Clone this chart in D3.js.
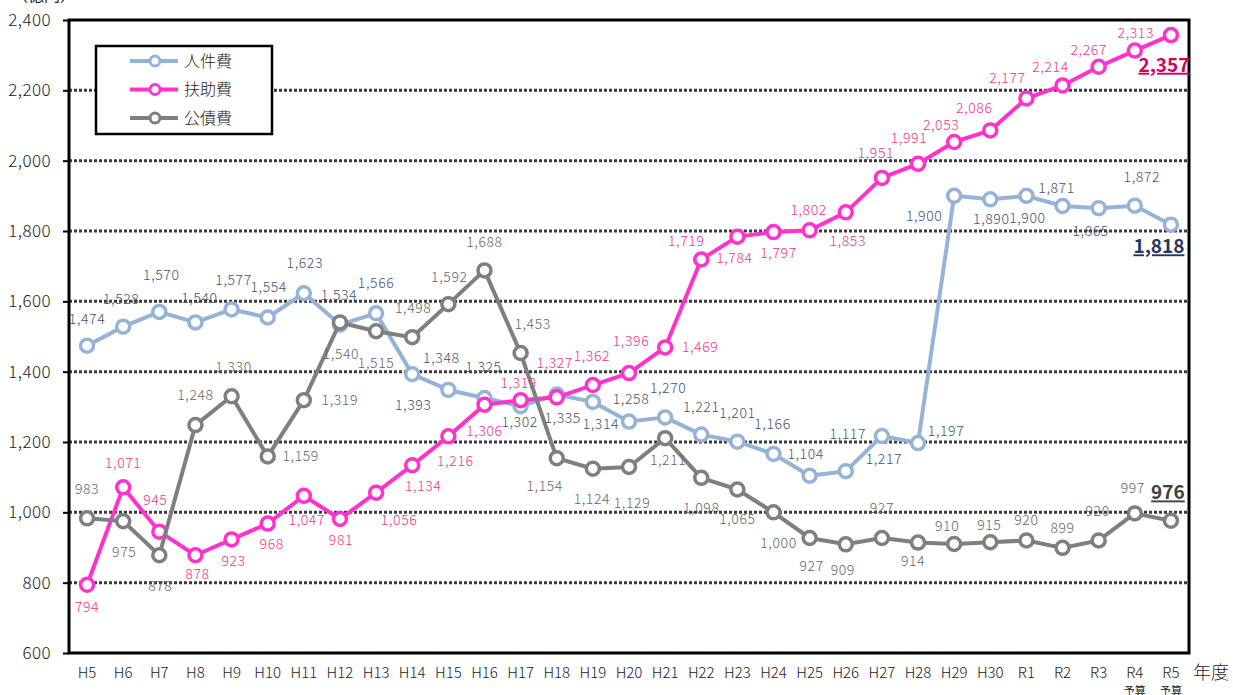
<!DOCTYPE html>
<html>
<head>
<meta charset="utf-8">
<script src="https://cdn.jsdelivr.net/npm/d3@7.9.0/dist/d3.min.js"></script>
<style>
  body { margin: 0; background: #fff; }
  svg { display: block; font-family: "Noto Sans CJK JP", "Noto Sans", sans-serif; }
</style>
</head>
<body>
<svg id="chart" width="1233" height="695"></svg>
<script>
// fiscal years
const years = ['H5','H6','H7','H8','H9','H10','H11','H12','H13','H14','H15','H16','H17','H18','H19',
  'H20','H21','H22','H23','H24','H25','H26','H27','H28','H29','H30','R1','R2','R3','R4','R5'];
const budgetYears = ['R4', 'R5'];
const yTicks = [600, 800, 1000, 1200, 1400, 1600, 1800, 2000, 2200, 2400];

// 人件費
const jinkenhi = [1474,1528,1570,1540,1577,1554,1623,1534,1566,1393,1348,1325,1302,1335,1314,
  1258,1270,1221,1201,1166,1104,1117,1217,1197,1900,1890,1900,1871,1865,1872,1818];
// 扶助費
const fujohi = [794,1071,945,878,923,968,1047,981,1056,1134,1216,1306,1319,1327,1362,
  1396,1469,1719,1784,1797,1802,1853,1951,1991,2053,2086,2177,2214,2267,2313,2357];
// 公債費
const kosaihi = [983,975,878,1248,1330,1159,1319,1540,1515,1498,1592,1688,1453,1154,1124,
  1129,1211,1098,1065,1000,927,909,927,914,910,915,920,899,920,997,976];

// label placement (dx, dy from the point)
const jinkenhiLabelPos = [[0,-27],[-2,-28],[2,-37],[4,-24],[2,-29],[1,-30],[1,-30],[-1,-29],[0,-30],[1,31],
  [-7,-32],[-1,-31],[-1,16],[6,24],[8,22],[2,-23],[3,-29],[0,-28],[0,-29],[-1,-30],[-4,-22],[2,-37],
  [2,23],[28,-12],[-30,20],[1,20],[1,22],[-6,-18],[-8,23],[7,-29],[-12,22]];
const fujohiLabelPos = [[0,22],[0,-24],[-4,-32],[2,19],[2,22],[4,21],[3,24],[1,21],[23,27],[11,21],
  [7,25],[0,26],[-2,-17],[-2,-34],[-1,-29],[2,-32],[35,0],[-15,-18],[-3,21],[5,21],[-1,-20],[2,29],
  [-6,-25],[-9,-26],[-13,-17],[-16,-22],[-19,-20],[-12,-18],[-10,-17],[1,-17],[-7,30]];
const kosaihiLabelPos = [[0,-29],[1,31],[1,31],[0,-30],[2,-29],[33,0],[36,0],[1,32],[0,32],[1,-29],
  [1,-27],[0,-28],[12,-29],[-12,28],[-1,30],[3,36],[3,22],[0,30],[0,30],[5,31],[2,28],[-3,26],
  [0,-30],[-5,19],[-7,-18],[-1,-17],[0,-20],[0,-20],[-1,-29],[-2,-25],[-3,-28]];

const series = [
  { name: '人件費', values: jinkenhi, pos: jinkenhiLabelPos, line: '#95b3d7', text: '#44546a', last: '#1f3864' },
  { name: '扶助費', values: fujohi, pos: fujohiLabelPos, line: '#ff33cc', text: '#ee3585', last: '#d6005a' },
  { name: '公債費', values: kosaihi, pos: kosaihiLabelPos, line: '#7f7f7f', text: '#666666', last: '#404040' }
];

const svg = d3.select('#chart');
const plot = { left: 69, right: 1189, top: 20, bottom: 653 };

const x = d3.scalePoint().domain(years).range([plot.left, plot.right]).padding(0.5);
const y = d3.scaleLinear().domain([600, 2400]).range([plot.bottom, plot.top]);

// dotted gridlines
svg.append('g')
  .selectAll('line')
  .data(yTicks.filter(t => t > 600 && t < 2400))
  .join('line')
  .attr('x1', plot.left).attr('x2', plot.right)
  .attr('y1', d => y(d)).attr('y2', d => y(d))
  .attr('stroke', '#3a3a3a')
  .attr('stroke-width', 3)
  .attr('stroke-dasharray', '3,2');

// y axis
const yAxis = svg.append('g')
  .attr('transform', `translate(${plot.left},0)`)
  .call(d3.axisLeft(y).tickValues(yTicks).tickSize(6).tickPadding(12).tickFormat(d3.format(',')));
yAxis.select('.domain').remove();
yAxis.selectAll('line').attr('stroke', '#000').attr('stroke-width', 2);
yAxis.selectAll('text').attr('font-size', 17).attr('fill', '#222').attr('font-weight', 300)
  .attr('letter-spacing', 0.4)
  .attr('font-family', '"Noto Sans CJK JP", sans-serif');

svg.append('text')
  .attr('x', 12).attr('y', 1)
  .attr('font-size', 16).attr('fill', '#222')
  .text('（億円）');

// frame
svg.append('rect')
  .attr('x', plot.left).attr('y', plot.top)
  .attr('width', plot.right - plot.left).attr('height', plot.bottom - plot.top)
  .attr('fill', 'none').attr('stroke', '#000').attr('stroke-width', 3);

// x labels
const xAxis = svg.append('g');
xAxis.selectAll('text.year')
  .data(years)
  .join('text')
  .attr('class', 'year')
  .attr('x', d => x(d)).attr('y', 678)
  .attr('text-anchor', 'middle')
  .attr('font-size', 15).attr('font-weight', 300).attr('fill', '#222')
  .text(d => d);
xAxis.selectAll('text.budget')
  .data(budgetYears)
  .join('text')
  .attr('class', 'budget')
  .attr('x', d => x(d)).attr('y', 695)
  .attr('text-anchor', 'middle')
  .attr('font-size', 11).attr('fill', '#222')
  .text('予算');
svg.append('text')
  .attr('x', 1193).attr('y', 679)
  .attr('font-size', 18).attr('font-weight', 300).attr('fill', '#222')
  .text('年度');

// lines + markers
const line = d3.line().x((d, i) => x(years[i])).y(d => y(d));

series.forEach(s => {
  const g = svg.append('g');
  g.append('path')
    .attr('d', line(s.values))
    .attr('fill', 'none')
    .attr('stroke', s.line)
    .attr('stroke-width', 4)
    .attr('stroke-linejoin', 'round');
  g.selectAll('circle')
    .data(s.values)
    .join('circle')
    .attr('cx', (d, i) => x(years[i]))
    .attr('cy', d => y(d))
    .attr('r', 6.5)
    .attr('fill', '#fff')
    .attr('stroke', s.line)
    .attr('stroke-width', 3.5);
});

// data labels
series.forEach(s => {
  const n = s.values.length;
  svg.append('g')
    .selectAll('text')
    .data(s.values)
    .join('text')
    .attr('x', (d, i) => x(years[i]) + s.pos[i][0])
    .attr('y', (d, i) => y(d) + s.pos[i][1])
    .attr('dy', '0.35em')
    .attr('text-anchor', 'middle')
    .attr('font-size', (d, i) => i === n - 1 ? 19 : 14)
    .attr('font-weight', (d, i) => i === n - 1 ? 'bold' : 300)
    .attr('letter-spacing', (d, i) => i === n - 1 ? 0 : 0.6)
    .attr('text-decoration', (d, i) => i === n - 1 ? 'underline' : 'none')
    .attr('fill', (d, i) => i === n - 1 ? s.last : s.text)
    .text(d => d3.format(',')(d));
});

// legend
const legend = svg.append('g');
legend.append('rect')
  .attr('x', 96).attr('y', 46).attr('width', 176).attr('height', 88)
  .attr('fill', '#fff').attr('stroke', '#000').attr('stroke-width', 2.5);
series.forEach((s, i) => {
  const ly = 61 + i * 28.5;
  legend.append('line')
    .attr('x1', 130).attr('x2', 178).attr('y1', ly).attr('y2', ly)
    .attr('stroke', s.line).attr('stroke-width', 4);
  legend.append('circle')
    .attr('cx', 155).attr('cy', ly).attr('r', 5)
    .attr('fill', '#fff').attr('stroke', s.line).attr('stroke-width', 3);
  legend.append('text')
    .attr('x', 184).attr('y', ly).attr('dy', '0.35em')
    .attr('font-size', 16).attr('font-weight', 300).attr('fill', '#222')
    .text(s.name);
});
</script>
</body>
</html>
